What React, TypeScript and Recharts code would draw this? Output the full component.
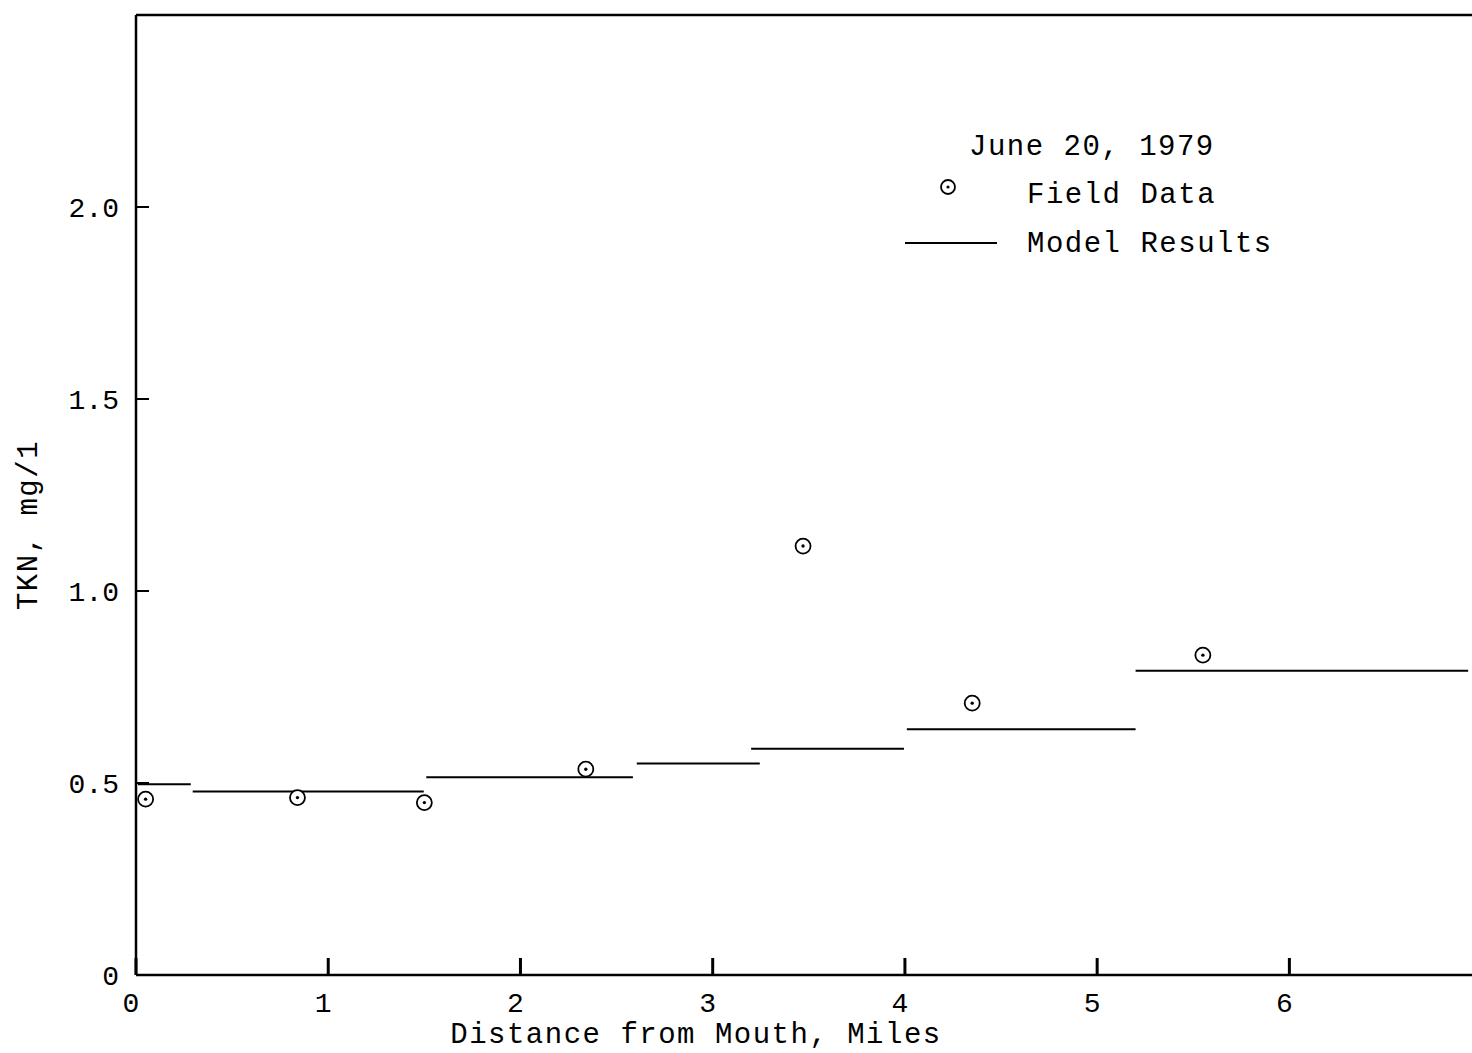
import React from "react";
import { ComposedChart, XAxis, YAxis, Scatter, ReferenceLine } from "recharts";

// ---- data ----
const xTicks = [0, 1, 2, 3, 4, 5, 6];
const yTicks = [0, 0.5, 1, 1.5, 2];
const fieldMiles = [0.05, 0.84, 1.5, 2.34, 3.47, 4.35, 5.55];
const fieldTKN = [0.458, 0.462, 0.449, 0.536, 1.117, 0.708, 0.833];
const modelStartMiles = [0.01, 0.295, 1.51, 2.605, 3.2, 4.01, 5.2];
const modelEndMiles = [0.285, 1.497, 2.585, 3.245, 3.995, 5.2, 6.93];
const modelTKN = [0.497, 0.478, 0.515, 0.551, 0.589, 0.64, 0.792];

const legendTitle = "June 20, 1979";
const legendField = "Field Data";
const legendModel = "Model Results";
const xLabel = "Distance from Mouth, Miles";
const yLabel = "TKN, mg/1";

const FONT = "'Liberation Mono', 'DejaVu Sans Mono', monospace";

const fieldData = fieldMiles.map((x, i) => ({ x, y: fieldTKN[i] }));
const modelSegments = modelTKN.map((v, i) => [
  { x: modelStartMiles[i], y: v },
  { x: modelEndMiles[i], y: v },
]);

const FieldMarker = (props: any) => {
  const { cx, cy } = props;
  if (cx == null || cy == null) return null;
  return (
    <g>
      <circle cx={cx} cy={cy} r={7.5} fill="#fff" stroke="#000" strokeWidth={1.8} />
      <circle cx={cx} cy={cy} r={1.7} fill="#000" />
    </g>
  );
};

const NoShape = () => null;

const YLabel = (props: any) => {
  const vb = props.viewBox || { x: 0, y: 15, width: 136, height: 960 };
  const x = vb.x + 37;
  const y = vb.y + vb.height / 2 + 30;
  return (
    <text
      x={x}
      y={y}
      transform={`rotate(-90, ${x}, ${y})`}
      textAnchor="middle"
      fontFamily={FONT}
      fontSize={29}
      letterSpacing={1.5}
      fill="#000"
    >
      {yLabel}
    </text>
  );
};

const XLabel = (props: any) => {
  const vb = props.viewBox || { x: 136, y: 975, width: 1336, height: 78 };
  const x = vb.x + 560;
  const y = vb.y + 68;
  return (
    <text x={x} y={y} textAnchor="middle" fontFamily={FONT} fontSize={29} letterSpacing={1.5} fill="#000">
      {xLabel}
    </text>
  );
};

export default function App() {
  return (
    <div style={{ position: "absolute", left: 0, top: 0, width: 1472, height: 1053, background: "#fff" }}>
      <ComposedChart
        width={1472}
        height={1053}
        margin={{ top: 15, right: 0, left: 0, bottom: 0 }}
      >
        <XAxis
          type="number"
          dataKey="x"
          domain={[0, 6.95]}
          ticks={xTicks}
          allowDataOverflow
          height={78}
          axisLine={{ stroke: "#000", strokeWidth: 2.5 }}
          tickLine={{ stroke: "#000", strokeWidth: 3 }}
          tickSize={-17}
          tickMargin={34}
          tick={{ fill: "#000", fontFamily: FONT, fontSize: 28, dx: -5 }}
          label={<XLabel />}
        />
        <YAxis
          type="number"
          dataKey="y"
          domain={[0, 2.5]}
          ticks={yTicks}
          allowDataOverflow
          width={136}
          axisLine={{ stroke: "#000", strokeWidth: 2.5 }}
          tickLine={{ stroke: "#000", strokeWidth: 2 }}
          tickSize={-13}
          tickMargin={30}
          tickFormatter={(v: number) => (v === 0 ? "0" : v.toFixed(1))}
          tick={{ fill: "#000", fontFamily: FONT, fontSize: 28 }}
          label={<YLabel />}
        />
        <ReferenceLine y={2.5} stroke="#000" strokeWidth={2.5} ifOverflow="extendDomain" />
        {modelSegments.map((seg, i) => (
          <Scatter
            key={"m" + i}
            data={seg}
            line={{ stroke: "#000", strokeWidth: 2 }}
            shape={NoShape}
            isAnimationActive={false}
          />
        ))}
        <Scatter data={fieldData} shape={FieldMarker} isAnimationActive={false} />
      </ComposedChart>
      <svg
        width={420}
        height={160}
        style={{ position: "absolute", left: 880, top: 110, overflow: "visible" }}
      >
        <g fontFamily={FONT} fontSize={29} fill="#000" letterSpacing={1.5}>
          <text x={969 - 880} y={155 - 110}>{legendTitle}</text>
          <text x={1027 - 880} y={203 - 110}>{legendField}</text>
          <text x={1027 - 880} y={252 - 110}>{legendModel}</text>
        </g>
        <circle cx={948 - 880} cy={187 - 110} r={7} fill="#fff" stroke="#000" strokeWidth={1.8} />
        <circle cx={948 - 880} cy={187 - 110} r={1.6} fill="#000" />
        <line x1={905 - 880} x2={997 - 880} y1={243 - 110} y2={243 - 110} stroke="#000" strokeWidth={2} />
      </svg>
    </div>
  );
}
